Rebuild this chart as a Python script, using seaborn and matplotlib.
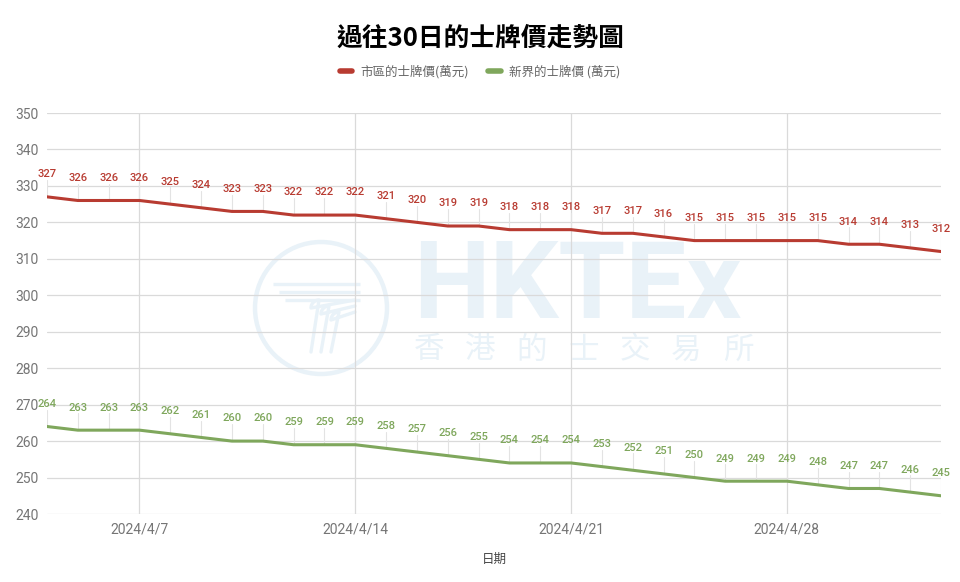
import matplotlib
matplotlib.use("Agg")
import matplotlib.pyplot as plt
import matplotlib.dates as mdates
from matplotlib.patches import Circle
from matplotlib.lines import Line2D
import seaborn as sns
import pandas as pd
import numpy as np

# ---- data ----
start_date = "2024-04-04"
n_days = 30
urban_prices = [327, 326, 326, 326, 325, 324, 323, 323, 322, 322, 322, 321, 320, 319, 319,
                318, 318, 318, 317, 317, 316, 315, 315, 315, 315, 315, 314, 314, 313, 312]
nt_prices = [264, 263, 263, 263, 262, 261, 260, 260, 259, 259, 259, 258, 257, 256, 255,
             254, 254, 254, 253, 252, 251, 250, 249, 249, 249, 248, 247, 247, 246, 245]
series_names = ["市區的士牌價(萬元)", "新界的士牌價 (萬元)"]
series_colors = ["#b83b31", "#7fa75c"]
title = "過往30日的士牌價走勢圖"
x_label = "日期"
tick_dates = ["2024-04-07", "2024-04-14", "2024-04-21", "2024-04-28"]
y_ticks = list(range(240, 351, 10))
watermark_en = "HKTEx"
watermark_zh = "香港的士交易所"

dates = pd.date_range(start_date, periods=n_days, freq="D")
df = pd.DataFrame({
    "日期": list(dates) * 2,
    "價格": urban_prices + nt_prices,
    "系列": [series_names[0]] * n_days + [series_names[1]] * n_days,
})

sns.set_theme(style="white")
plt.rcParams["font.family"] = ["Roboto", "Noto Sans CJK TC", "DejaVu Sans"]
cjk = ["Noto Sans CJK TC", "DejaVu Sans"]

W, H = 960, 582
fig = plt.figure(figsize=(W / 100, H / 100), dpi=100)
ax = fig.add_axes([47 / W, 1 - 514 / H, (941 - 47) / W, (514 - 113) / H])


def fp(x, y):
    """figure pixel (from top-left) -> figure fraction"""
    return x / W, 1 - y / H


# ---- watermark (behind everything) ----
wm = "#e9f2f8"
cx, cy = fp(321, 308)
ax.add_patch(Circle((cx, cy), 66 / W, transform=fig.dpi_scale_trans + matplotlib.transforms.Affine2D(),
                    visible=False))
circ = matplotlib.patches.Ellipse((cx, cy), 132 / W, 132 / H, transform=fig.transFigure,
                                  fill=False, edgecolor=wm, lw=3.2, zorder=0.1)
ax.add_patch(circ)
# stylised logo strokes
for k in range(3):
    yk = 284 + 8 * k
    xs = [273 + 6 * k, 360]
    ax.plot(*zip(fp(xs[0], yk), fp(xs[1], yk)), transform=fig.transFigure,
            color=wm, lw=2.4, zorder=0.1, solid_capstyle="butt")
for k in range(3):
    xv = 311 + 10 * k
    ytop = 300 + 6 * k
    r = 8
    t = np.linspace(0, np.pi / 2, 12)
    arc_x = xv + r - r * np.cos(np.pi / 2 - t)
    arc_y = ytop + r - r * np.sin(np.pi / 2 - t)
    px = [355] + list(arc_x[::-1]) + [xv]
    py = [ytop] + list(arc_y[::-1]) + [352]
    pts = [fp(a, b) for a, b in zip(px, py)]
    ax.plot([p[0] for p in pts], [p[1] for p in pts], transform=fig.transFigure,
            color=wm, lw=2.4, zorder=0.1)
tx, ty = fp(413, 288)
ax.text(tx, ty, watermark_en, transform=fig.transFigure, fontsize=78, fontweight="bold",
        color=wm, family="Roboto", va="center", ha="left", zorder=0.1)
for i, ch in enumerate(watermark_zh):
    zx, zy = fp(429 + i * 51.5, 350)
    ax.text(zx, zy, ch, transform=fig.transFigure, fontsize=22,
            color=wm, family=cjk, va="center", ha="center", zorder=0.1)

# ---- lines ----
sns.lineplot(data=df, x="日期", y="價格", hue="系列", palette=series_colors,
             linewidth=2.2, ax=ax, legend=False, zorder=3)

# data labels with leader lines
label_offset = 6.2
for vals, col in zip([urban_prices, nt_prices], series_colors):
    for d, v in zip(dates, vals):
        ax.plot([d, d], [v, v + label_offset - 1.6], color="#e3e3e3", lw=0.8, zorder=2)
        ax.text(d, v + label_offset, str(v), color=col, fontsize=8, fontweight="medium",
                ha="center", va="center", family="Roboto", zorder=4)

ax.set_ylim(240, 350)
ax.set_yticks(y_ticks)
ax.set_xlim(dates[0], dates[-1])
ax.set_xticks(pd.to_datetime(tick_dates))
ax.xaxis.set_major_formatter(plt.FuncFormatter(
    lambda x, pos: (lambda d: f"{d.year}/{d.month}/{d.day}")(mdates.num2date(x))))
ax.grid(True, color="#dadada", lw=0.9, zorder=1)
ax.set_axisbelow(True)
for s in ax.spines.values():
    s.set_visible(False)
ax.tick_params(axis="both", length=0, colors="#757575", labelsize=10)
ax.tick_params(axis="y", pad=6)
ax.tick_params(axis="x", pad=6)
ax.set_ylabel("")
ax.set_xlabel(x_label, family=cjk, fontsize=9, color="#444444", labelpad=12)

fig.text(0.5, 1 - 38 / H, title, ha="center", va="center", fontsize=18.5,
         fontweight="bold", family=cjk, color="#000000")

# legend
handles = [Line2D([0], [0], color=c, lw=4) for c in series_colors]
leg = fig.legend(handles, series_names, loc="center", bbox_to_anchor=(0.5, 1 - 72 / H),
                 ncol=2, frameon=False, handlelength=1.0, columnspacing=1.5,
                 handletextpad=0.7, prop={"family": cjk, "size": 9})
for t in leg.get_texts():
    t.set_color("#666666")

fig.savefig("out.png", dpi=100)
